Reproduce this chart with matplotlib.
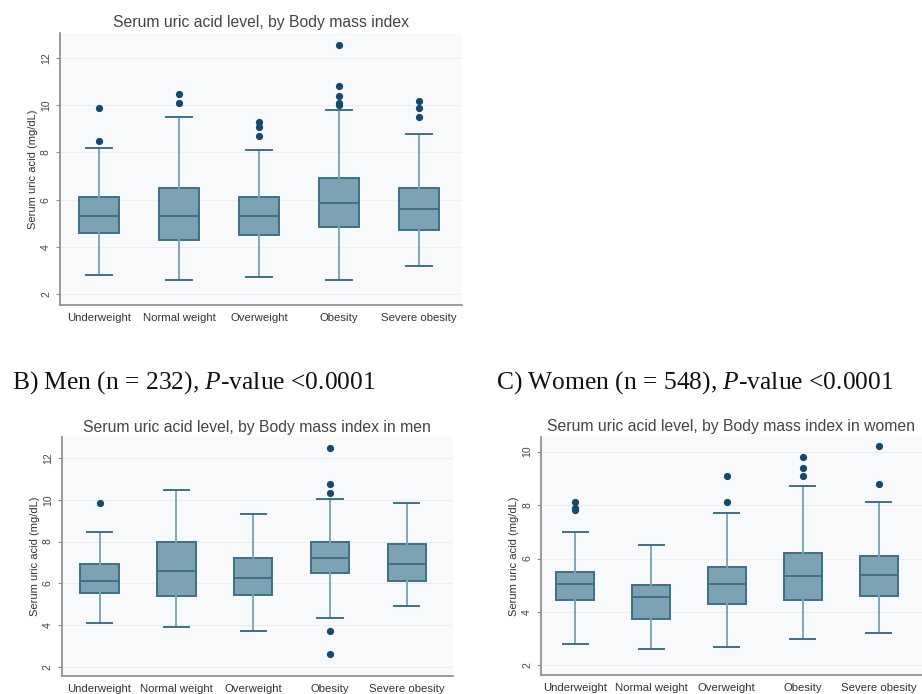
import matplotlib
matplotlib.use("Agg")
from matplotlib import pyplot as plt

plt.rcParams['font.family'] = ['Liberation Sans', 'DejaVu Sans']
plt.rcParams['mathtext.fontset'] = 'custom'
plt.rcParams['mathtext.rm'] = 'Liberation Serif'
plt.rcParams['mathtext.it'] = 'Liberation Serif:italic'

categories = ["Underweight", "Normal weight", "Overweight", "Obesity", "Severe obesity"]

# all patients: (whisker low, q1, median, q3, whisker high)
all_low = [2.8, 2.6, 2.7, 2.6, 3.2]
all_q1 = [4.6, 4.3, 4.5, 4.85, 4.7]
all_med = [5.3, 5.3, 5.3, 5.85, 5.6]
all_q3 = [6.1, 6.5, 6.1, 6.9, 6.5]
all_high = [8.2, 9.5, 8.1, 9.8, 8.8]
all_out = [[8.5, 9.9], [10.1, 10.5], [8.7, 9.1, 9.3], [10.0, 10.1, 10.4, 10.8, 12.55], [9.5, 9.9, 10.2]]

# men
men_low = [4.1, 3.9, 3.7, 4.35, 4.9]
men_q1 = [5.55, 5.4, 5.45, 6.5, 6.1]
men_med = [6.1, 6.6, 6.25, 7.2, 6.9]
men_q3 = [6.9, 8.0, 7.2, 8.0, 7.9]
men_high = [8.45, 10.45, 9.3, 10.05, 9.85]
men_out = [[9.85], [], [], [2.6, 3.7, 10.35, 10.75, 12.5], []]

# women
wom_low = [2.8, 2.6, 2.7, 3.0, 3.2]
wom_q1 = [4.45, 3.75, 4.3, 4.45, 4.6]
wom_med = [5.05, 4.55, 5.05, 5.35, 5.4]
wom_q3 = [5.5, 5.0, 5.7, 6.2, 6.1]
wom_high = [7.0, 6.5, 7.7, 8.7, 8.1]
wom_out = [[7.8, 7.9, 8.1], [], [8.1, 9.1], [9.1, 9.4, 9.8], [8.8, 10.2]]

FILL = "#7da2b4"
EDGE = "#3f6f88"
WHISK = "#7fa6bb"
DOT = "#16496d"
BG = "#f7f9fb"


def make_stats(low, q1, med, q3, high, out):
    stats = []
    for i in range(len(categories)):
        stats.append({"whislo": low[i], "q1": q1[i], "med": med[i], "q3": q3[i],
                      "whishi": high[i], "fliers": out[i], "label": categories[i]})
    return stats


def draw_panel(rect, stats, title, yticks, ylim, xlim):
    ax = fig.add_axes(rect)
    ax.set_facecolor(BG)
    ax.bxp(stats, widths=0.5, capwidths=0.33, patch_artist=True,
           boxprops=dict(facecolor=FILL, edgecolor=EDGE, linewidth=1.4),
           medianprops=dict(color=EDGE, linewidth=1.4),
           whiskerprops=dict(color=WHISK, linewidth=1.4),
           capprops=dict(color=EDGE, linewidth=1.4),
           flierprops=dict(marker="o", markerfacecolor=DOT, markeredgecolor=DOT, markersize=4.2))
    ax.set_yticks(yticks)
    ax.set_ylim(ylim)
    ax.set_xlim(xlim)
    ax.yaxis.grid(True, color="#e9eef2", linewidth=0.8)
    ax.set_axisbelow(True)
    for s in ["top", "right"]:
        ax.spines[s].set_visible(False)
    for s in ["left", "bottom"]:
        ax.spines[s].set_color("#8a8a8a")
        ax.spines[s].set_linewidth(1.2)
    ax.tick_params(axis="x", length=0, labelsize=8.2, colors="#333333", pad=6)
    ax.tick_params(axis="y", length=3, color="#8a8a8a", labelsize=7.5, labelcolor="#444444")
    for lab in ax.get_yticklabels():
        lab.set_rotation(90)
        lab.set_va("center")
    ax.set_ylabel("Serum uric acid (mg/dL)", fontsize=8, color="#333333", labelpad=2)
    ax.set_title(title, fontsize=11.3, color="#444444", pad=4)
    return ax


fig = plt.figure(figsize=(9.22, 6.94), dpi=100)

draw_panel([0.0651, 0.5605, 0.436, 0.392],
           make_stats(all_low, all_q1, all_med, all_q3, all_high, all_out),
           "Serum uric acid level, by Body mass index",
           [2, 4, 6, 8, 10, 12], (1.53, 13.07), (0.51, 5.54))

draw_panel([0.0672, 0.0259, 0.424, 0.344],
           make_stats(men_low, men_q1, men_med, men_q3, men_high, men_out),
           "Serum uric acid level, by Body mass index in men",
           [2, 4, 6, 8, 10, 12], (1.55, 13.0), (0.51, 5.6))

draw_panel([0.5868, 0.0274, 0.413, 0.343],
           make_stats(wom_low, wom_q1, wom_med, wom_q3, wom_high, wom_out),
           "Serum uric acid level, by Body mass index in women",
           [2, 4, 6, 8, 10], (1.64, 10.55), (0.55, 5.57))

fig.text(12 / 922, 1 - 383 / 694, r"B) Men (n = 232), $\mathit{P}$-value <0.0001",
         family="Liberation Serif", fontsize=18.4, va="center", ha="left", color="#111111")
fig.text(496 / 922, 1 - 383 / 694, r"C) Women (n = 548), $\mathit{P}$-value <0.0001",
         family="Liberation Serif", fontsize=18.4, va="center", ha="left", color="#111111")

fig.savefig("out.png", dpi=100, facecolor="white")
